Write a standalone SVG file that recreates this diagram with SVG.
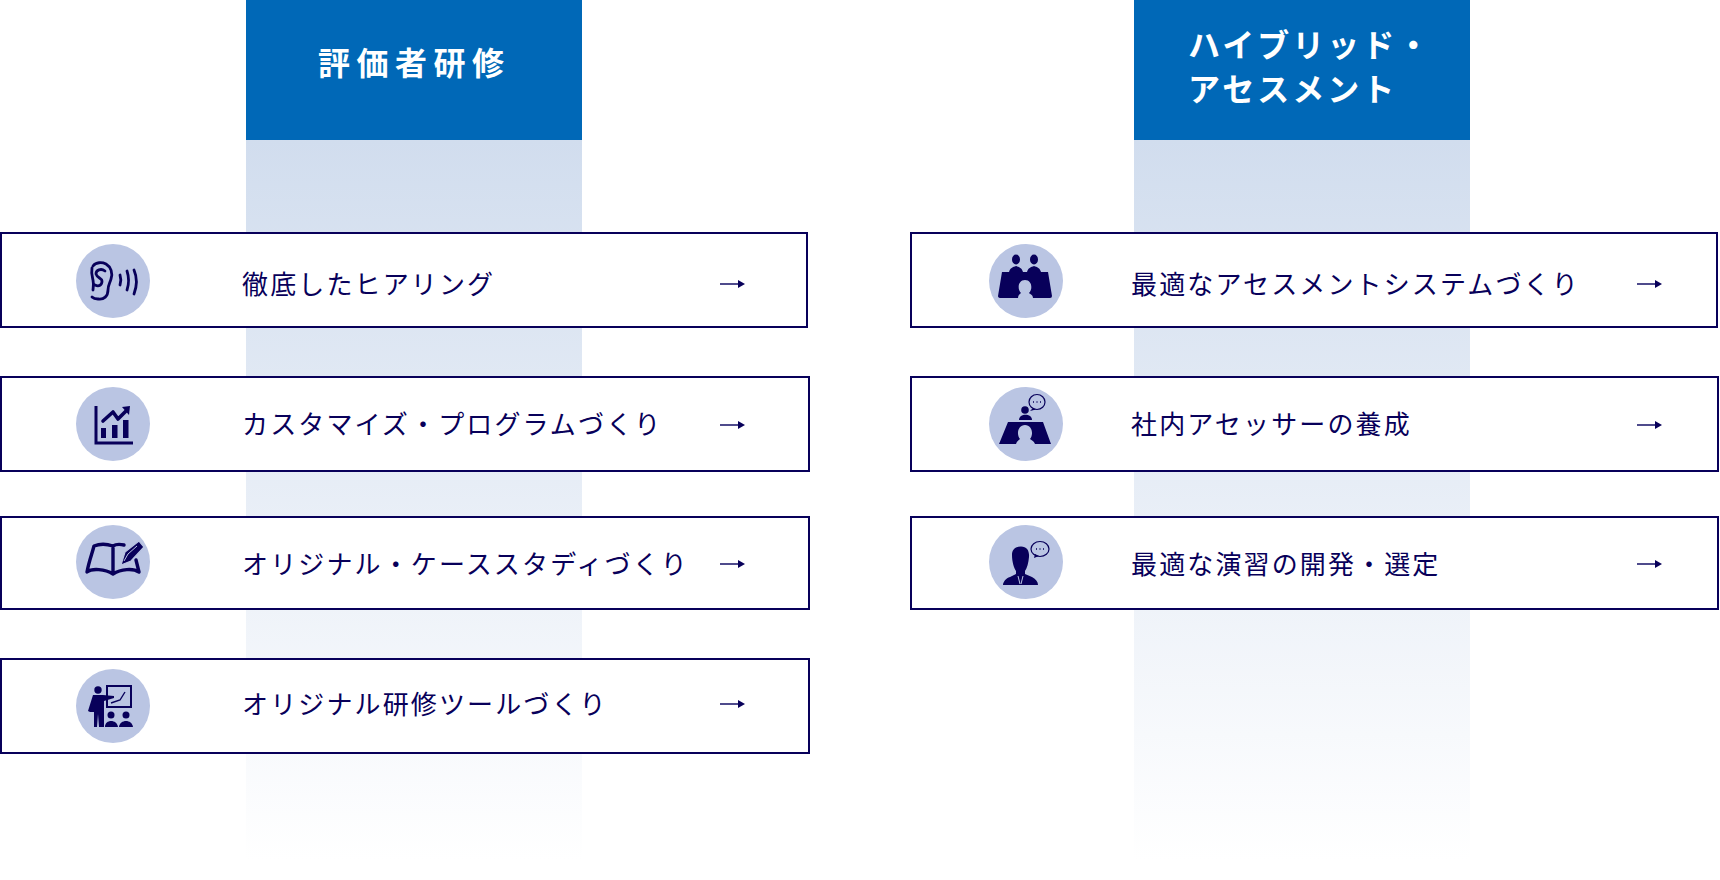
<svg xmlns="http://www.w3.org/2000/svg" width="1720" height="880" viewBox="0 0 1720 880">
<style>
.t{font-family:"Noto Sans CJK JP","Noto Sans",sans-serif;font-size:26px;letter-spacing:2.13px;fill:#08005a}
.h{font-family:"Noto Sans CJK JP","Noto Sans",sans-serif;font-size:32px;font-weight:700;fill:#fff}
.b{fill:#fff;stroke:#08005a;stroke-width:2}
.c{fill:#bac5e3}
.i{fill:#08005a}
.s{fill:none;stroke:#08005a;stroke-linecap:round;stroke-linejoin:round}
.a{fill:none;stroke:#4f4b8c;stroke-width:2}
</style>
<defs>
<linearGradient id="g" x1="0" y1="0" x2="0" y2="1"><stop offset="0" stop-color="#d1ddee"/><stop offset="1" stop-color="#d1ddee" stop-opacity="0"/></linearGradient>
<g id="arrow"><path class="a" d="M0 0H20"/><path class="i" d="M18 -4L25 0L18 4Z"/></g>
</defs>
<g id="col-left"><rect x="246" y="140" width="336" height="720" fill="url(#g)"/><rect x="246" y="0" width="336" height="140" fill="#0068b7"/><text class="h" x="318" y="75" letter-spacing="6.5">評価者研修</text></g>
<g id="col-right"><rect x="1134" y="140" width="336" height="720" fill="url(#g)"/><rect x="1134" y="0" width="336" height="140" fill="#0068b7"/><text class="h" x="1188" y="57" letter-spacing="3">ハイブリッド・</text><text class="h" x="1188" y="101" letter-spacing="3">アセスメント</text></g>
<g id="connectors"></g>
<g id="n1"><rect class="b" x="1" y="233" width="806" height="94"/><circle class="c" cx="113" cy="281" r="37"/>
<g class="s" stroke-width="2.8"><path d="M93 266C96 262 102 262 106 264C111 267 113 273 111 279C110 283 108 285 108 290C108 296 104 300 98 299C95 299 93 298 92 297"/><path d="M92 268C91 273 92 276 93 280C94 285 93 288 93 290M95 285C99 287 102 285 102 281C102 278 97 278 96 274C96 270 101 268 105 271"/>
<path d="M120 275C121 278 121 282 120 285M127 271C129 277 129 284 127 290M134 270C137 277 137 286 134 294"/></g>
<text class="t" x="242" y="294">徹底したヒアリング</text><use href="#arrow" x="720" y="284"/></g>
<g id="n2"><rect class="b" x="1" y="377" width="808" height="94"/><circle class="c" cx="113" cy="424" r="37"/>
<path d="M96 406V443H133" fill="none" stroke="#08005a" stroke-width="3"/><path class="s" stroke-width="3.6" d="M103 421L113 412L118 419L127 410"/><path class="i" d="M122 407L130 406L129 415Z"/><rect class="i" x="101" y="428" width="5" height="10"/><rect class="i" x="112" y="425" width="5.500" height="13"/><rect class="i" x="123" y="420" width="5.500" height="18"/>
<text class="t" x="242" y="434">カスタマイズ・プログラムづくり</text><use href="#arrow" x="720" y="425"/></g>
<g id="n3"><rect class="b" x="1" y="517" width="808" height="92"/><circle class="c" cx="113" cy="562" r="37"/>
<path class="s" stroke-width="3.4" d="M113 546C107 544 99 544 94 546C92 554 89 561 87 572C92 568 105 569 113 574C121 569 133 568 139 572L136 560M113 546V574M113 546C116 544 120 544 124 545"/>
<path class="i" d="M121 565L125 552L139 541L144 547L131 561Z" stroke="#bac5e3" stroke-width="1.200"/><path d="M124 561L128 554L137 546" fill="none" stroke="#bac5e3" stroke-width="1"/>
<text class="t" x="242" y="574">オリジナル・ケーススタディづくり</text><use href="#arrow" x="720" y="564"/></g>
<g id="n4"><rect class="b" x="1" y="659" width="808" height="94"/><circle class="c" cx="113" cy="706" r="37"/>
<rect x="107" y="686" width="24" height="21" fill="none" stroke="#08005a" stroke-width="2"/><path d="M111 703L120 700L125 692" fill="none" stroke="#08005a" stroke-width="1.400"/>
<circle class="i" cx="98" cy="690" r="3.700"/><path class="i" d="M93 695H103L114 696V698L104 701V727H99L98 714L97 727H94V712L90 712L88 711Z"/>
<circle class="i" cx="111" cy="715" r="3.500"/><circle class="i" cx="126" cy="715" r="3.500"/><path class="i" d="M105 727C105 719 117 719 118 727ZM119 727C120 719 132 719 133 727Z"/>
<text class="t" x="242" y="714">オリジナル研修ツールづくり</text><use href="#arrow" x="720" y="704"/></g>
<g id="n5"><rect class="b" x="911" y="233" width="806" height="94"/><circle class="c" cx="1026" cy="281" r="37"/>
<path class="i" d="M1002 272H1048L1052 296Q1052 298 1050 298H1033C1033 295 1030 294 1029 293C1033 289 1032 280 1025 280C1018 280 1017 289 1021 293C1020 294 1018 295 1018 298H1001Q998 298 998 296Z"/>
<ellipse class="i" cx="1016" cy="259.500" rx="4" ry="5"/><ellipse class="i" cx="1034" cy="259.500" rx="4" ry="5"/><path class="i" d="M1009 272C1010 268 1013 267 1016 266C1019 267 1022 268 1023 272ZM1027 272C1028 268 1031 267 1034 266C1037 267 1040 268 1041 272Z"/>
<text class="t" x="1131" y="294">最適なアセスメントシステムづくり</text><use href="#arrow" x="1637" y="284"/></g>
<g id="n6"><rect class="b" x="911" y="377" width="807" height="94"/><circle class="c" cx="1026" cy="424" r="37"/>
<path class="i" d="M1008 422H1043L1051 444H1035C1034 441 1031 440 1030 439C1034 434 1032 425 1025 425C1018 425 1016 434 1020 439C1019 440 1017 441 1016 444H999Z"/>
<circle class="i" cx="1025" cy="410" r="3.800"/><path class="i" d="M1019 420C1019 413 1032 413 1032 420Z"/>
<ellipse cx="1037" cy="402" rx="8" ry="7.500" fill="none" stroke="#08005a" stroke-width="1.200"/><path class="i" d="M1033 408L1030 411L1036 409.500Z"/><path d="M1033 402h1M1036.500 402h1M1040 402h1" stroke="#08005a" stroke-width="1.400"/>
<text class="t" x="1131" y="434">社内アセッサーの養成</text><use href="#arrow" x="1637" y="425"/></g>
<g id="n7"><rect class="b" x="911" y="517" width="807" height="92"/><circle class="c" cx="1026" cy="562" r="37"/>
<path class="i" d="M1012 555C1012 549 1016 546.500 1021 546.500C1027 546.500 1029.500 551 1029 557C1028.500 563 1027 568 1025 571V574L1032 577C1036 579 1038 582 1038 585H1003C1003 582 1006 578 1010 577L1016 574V571C1014 568 1012 562 1012 555Z"/>
<path d="M1018 576L1020 584M1023 576L1021 584" stroke="#bac5e3" stroke-width="1" fill="none"/>
<ellipse cx="1040" cy="549" rx="9" ry="7.500" fill="none" stroke="#08005a" stroke-width="1.200"/><path class="i" d="M1035 554L1034 558L1039 556Z"/><path d="M1036 549h1M1039.500 549h1M1043 549h1" stroke="#08005a" stroke-width="1.400"/>
<text class="t" x="1131" y="574">最適な演習の開発・選定</text><use href="#arrow" x="1637" y="564"/></g>
</svg>
